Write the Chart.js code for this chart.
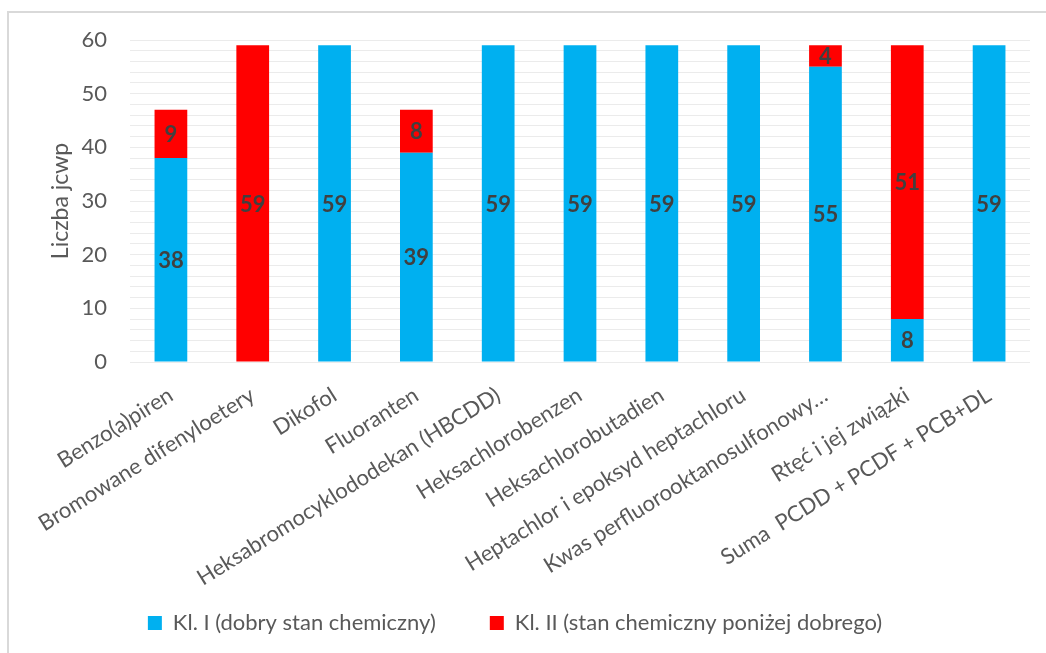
<!DOCTYPE html>
<html>
<head>
<meta charset="utf-8">
<script src="https://cdn.jsdelivr.net/npm/chart.js@4"></script>
<style>
  html, body { margin: 0; padding: 0; background: #fff; overflow: hidden; }
  #frame { position: absolute; left: 7px; top: 11px; width: 1100px; height: 700px; border: 2px solid #d9d9d9; }
  #wrap { position: absolute; left: 0; top: 0; width: 1046px; height: 653px; }
</style>
</head>
<body>
<div id="frame"></div>
<div id="wrap"><canvas id="myChart"></canvas></div>
<script>
// substancje
const labels = [
  "Benzo(a)piren",
  "Bromowane difenyloetery",
  "Dikofol",
  "Fluoranten",
  "Heksabromocyklododekan (HBCDD)",
  "Heksachlorobenzen",
  "Heksachlorobutadien",
  "Heptachlor i epoksyd heptachloru",
  "Kwas perfluorooktanosulfonowy…",
  "Rtęć i jej związki",
  "Suma  PCDD + PCDF + PCB+DL"
];
const klasa1 = [38, 0, 59, 39, 59, 59, 59, 59, 55, 8, 59];
const klasa2 = [9, 59, 0, 8, 0, 0, 0, 0, 4, 51, 0];
const seriesNames = ["Kl. I (dobry stan chemiczny)", "Kl. II (stan chemiczny poniżej dobrego)"];
const yTicks = [0, 10, 20, 30, 40, 50, 60];

const fontName = "Lato, 'Open Sans', sans-serif";

// liczby na slupkach
const valueLabels = {
  id: "valueLabels",
  afterDatasetsDraw(chart) {
    const ctx = chart.ctx;
    ctx.save();
    ctx.font = "bold 22px " + fontName;
    ctx.fillStyle = "#404040";
    ctx.textAlign = "center";
    ctx.textBaseline = "middle";
    chart.data.datasets.forEach((ds, i) => {
      const meta = chart.getDatasetMeta(i);
      meta.data.forEach((bar, j) => {
        const v = ds.data[j];
        if (!v) return;
        const p = bar.getProps(["x", "y", "base"], true);
        ctx.fillText(v, p.x, (p.y + p.base) / 2 + 1);
      });
    });
    ctx.restore();
  }
};

// legenda: mniejsza wysokosc, ale duzy odstep miedzy pozycjami
const legendFix = {
  id: "legendFix",
  afterInit(chart) {
    const lg = chart.legend;
    if (!lg) return;
    const fit = lg.fit.bind(lg);
    lg.fit = function () { fit(); this.height = 61; };
  },
  afterLayout(chart) {
    const lg = chart.legend;
    if (!lg) return;
    lg.top -= 34;
  }
};

var ctx = document.getElementById("myChart").getContext("2d");
var myChart = new Chart(ctx, {
  type: "bar",
  data: {
    labels: labels,
    datasets: [
      {
        data: klasa1,
        label: seriesNames[0],
        backgroundColor: "#00b0f0",
        barPercentage: 0.4,
        categoryPercentage: 1,
      },
      {
        data: klasa2,
        label: seriesNames[1],
        backgroundColor: "#ff0000",
        barPercentage: 0.4,
        categoryPercentage: 1,
      },
    ],
  },
  options: {
    responsive: true,
    maintainAspectRatio: false,
    animation: false,
    layout: { padding: { top: 40, right: 16, left: 0, bottom: 0 } },
    plugins: {
      tooltip: { enabled: false },
      legend: {
        position: "bottom",
        labels: {
          boxWidth: 14,
          boxHeight: 14,
          padding: 54,
          color: "#595959",
          font: { family: fontName, size: 22 },
        },
      },
    },
    scales: {
      x: {
        stacked: true,
        grid: { display: false },
        border: { display: false },
        ticks: {
          minRotation: 32,
          maxRotation: 32,
          autoSkip: false,
          padding: 12,
          color: "#595959",
          font: { family: fontName, size: 22 },
        },
        afterFit(scale) { scale.height = 230; },
      },
      y: {
        stacked: true,
        min: 0,
        max: 60,
        grid: { color: "#ebebeb", lineWidth: 1, drawTicks: false },
        border: { display: false },
        ticks: {
          stepSize: 2,
          autoSkip: false,
          padding: 23,
          color: "#595959",
          font: { family: fontName, size: 22 },
          callback: (v) => (yTicks.includes(v) ? v : ""),
        },
        title: {
          display: true,
          text: "Liczba jcwp",
          color: "#595959",
          font: { family: fontName, size: 23, weight: "normal" },
          padding: { top: 47, bottom: 0 },
        },
        afterFit(scale) { scale.width = 130; },
      },
    },
  },
  plugins: [valueLabels, legendFix],
});
</script>
</body>
</html>
